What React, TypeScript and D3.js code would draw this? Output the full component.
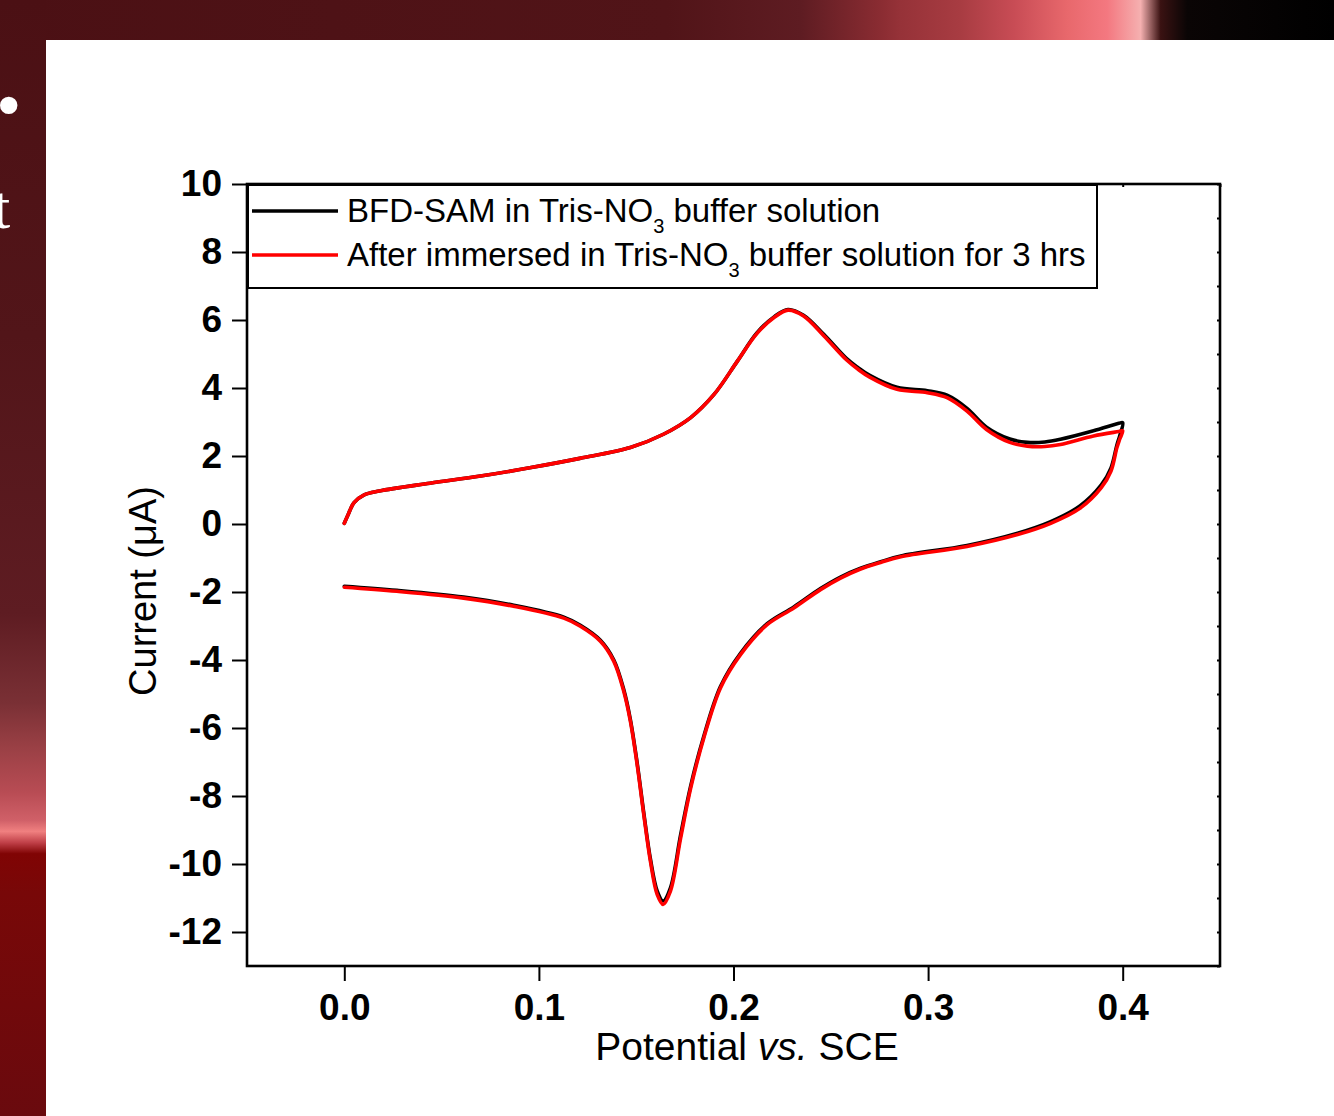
import React, { useEffect, useRef } from 'react';
import * as d3 from 'd3';

// forward scan (0 -> 0.4 V)
const fwdPotential = [0, 0.002, 0.005, 0.01, 0.018, 0.044, 0.07, 0.096, 0.121, 0.147, 0.164, 0.178, 0.19, 0.202, 0.212, 0.221, 0.228, 0.236, 0.2465, 0.258, 0.264, 0.27, 0.284, 0.2996, 0.31, 0.32, 0.33, 0.342, 0.351, 0.36, 0.368, 0.385, 0.398, 0.4];
const fwdBlack = [0.02, 0.28, 0.63, 0.85, 0.97, 1.2, 1.41, 1.66, 1.93, 2.25, 2.64, 3.13, 3.81, 4.79, 5.62, 6.1, 6.31, 6.14, 5.57, 4.87, 4.6, 4.37, 4.02, 3.92, 3.78, 3.4, 2.85, 2.5, 2.4, 2.41, 2.49, 2.74, 2.96, 2.98];
const fwdRed = [0.02, 0.28, 0.63, 0.85, 0.97, 1.2, 1.41, 1.66, 1.93, 2.25, 2.64, 3.13, 3.81, 4.79, 5.6, 6.08, 6.29, 6.12, 5.53, 4.83, 4.55, 4.32, 3.96, 3.86, 3.71, 3.32, 2.78, 2.4, 2.29, 2.28, 2.34, 2.59, 2.72, 2.74];

// reverse scan (0.4 -> 0 V)
const revPotential = [0.4, 0.3985, 0.397, 0.394, 0.389, 0.378, 0.363, 0.346, 0.32, 0.286, 0.2756, 0.265, 0.255, 0.2447, 0.231, 0.2173, 0.2036, 0.1933, 0.1847, 0.178, 0.1728, 0.1676, 0.1638, 0.1608, 0.1573, 0.1539, 0.1505, 0.147, 0.1436, 0.1385, 0.1316, 0.1213, 0.1128, 0.087, 0.0613, 0.027, 0];
const revBlack = [2.98, 2.6, 2.32, 1.65, 1.15, 0.53, 0.07, -0.27, -0.63, -0.94, -1.11, -1.31, -1.56, -1.9, -2.44, -2.93, -3.8, -4.78, -6.25, -7.7, -9.15, -10.7, -11.09, -10.8, -9.85, -8.5, -7.03, -5.75, -4.87, -4.0, -3.42, -2.98, -2.74, -2.39, -2.15, -1.95, -1.83];
const revRed = [2.74, 2.5, 2.24, 1.56, 1.07, 0.46, 0.02, -0.31, -0.66, -0.96, -1.13, -1.33, -1.59, -1.93, -2.47, -2.96, -3.84, -4.82, -6.3, -7.77, -9.25, -10.8, -11.19, -10.9, -9.92, -8.55, -7.08, -5.8, -4.92, -4.04, -3.45, -3.01, -2.77, -2.42, -2.18, -1.98, -1.86];

const xMajor = [0, 0.1, 0.2, 0.3, 0.4];
const xMinor = [-0.05, 0.05, 0.15, 0.25, 0.35, 0.45];
const yMajor = [-12, -10, -8, -6, -4, -2, 0, 2, 4, 6, 8, 10];
const yMinor = [-13, -11, -9, -7, -5, -3, -1, 1, 3, 5, 7, 9];

const legendBefore = ['BFD-SAM in Tris-NO', 'After immersed in Tris-NO'];
const legendSub = ['3', '3'];
const legendAfter = [' buffer solution', ' buffer solution for 3 hrs'];
const seriesColors = ['#000000', '#ff0000'];

const FONT = "'Liberation Sans', Arial, sans-serif";

const App = () => {
  const svgRef = useRef(null);

  useEffect(() => {
    const W = 1334, H = 1116;
    const left = 247, right = 1220, top = 184, bottom = 966;

    const svg = d3.select(svgRef.current);
    svg.selectAll('*').remove();
    svg.attr('width', W).attr('height', H);

    // slide background
    const defs = svg.append('defs');
    const topGrad = defs.append('linearGradient').attr('id', 'topBand')
      .attr('x1', 0).attr('x2', 1).attr('y1', 0).attr('y2', 0);
    [[0, '#4b1014'], [0.5, '#511418'], [0.6, '#5e1c22'], [0.66, '#8a2c32'], [0.675, '#963238'],
      [0.72, '#a83c42'], [0.76, '#c84c55'], [0.8, '#e8686c'], [0.83, '#f47880'], [0.855, '#f5b0b0'],
      [0.87, '#3a1212'], [0.89, '#0a0505'], [1, '#000000']].forEach(([o, c]) =>
      topGrad.append('stop').attr('offset', o).attr('stop-color', c));
    const leftGrad = defs.append('linearGradient').attr('id', 'leftBand')
      .attr('x1', 0).attr('x2', 0).attr('y1', 0).attr('y2', 1);
    [[0, '#4b1014'], [0.3, '#521519'], [0.55, '#5e1c22'], [0.63, '#7a3035'], [0.67, '#9a4045'],
      [0.71, '#b84c54'], [0.735, '#d06068'], [0.745, '#f08080'], [0.755, '#c04048'], [0.765, '#800404'],
      [0.8, '#780808'], [1, '#6a0a0e']].forEach(([o, c]) =>
      leftGrad.append('stop').attr('offset', o).attr('stop-color', c));

    svg.append('rect').attr('width', W).attr('height', H).attr('fill', '#ffffff');
    svg.append('rect').attr('width', W).attr('height', 40).attr('fill', 'url(#topBand)');
    svg.append('rect').attr('y', 0).attr('width', 46).attr('height', H).attr('fill', 'url(#leftBand)');
    // bits of slide text cut off by the chart picture
    svg.append('text').attr('x', -9).attr('y', 128).attr('fill', '#ffffff')
      .attr('font-family', 'DejaVu Serif, serif').attr('font-size', 60).text('•');
    svg.append('text').attr('x', -7).attr('y', 228).attr('fill', '#ffffff')
      .attr('font-family', "'Liberation Serif', serif").attr('font-size', 62).text('t');

    const x = d3.scaleLinear().domain([-0.05, 0.45]).range([left, right]);
    const y = d3.scaleLinear().domain([-13, 10]).range([bottom, top]);

    // bottom axis
    const bx = svg.append('g').attr('transform', `translate(0,${bottom})`);
    bx.call(d3.axisBottom(x).tickValues(xMinor).tickSize(7).tickSizeOuter(0).tickFormat(() => ''));
    bx.call(d3.axisBottom(x).tickValues(xMajor).tickSize(15).tickSizeOuter(0).tickPadding(13)
      .tickFormat(d => (+d).toFixed(1)));
    // left axis
    const ly = svg.append('g').attr('transform', `translate(${left},0)`);
    ly.call(d3.axisLeft(y).tickValues(yMinor).tickSize(8).tickSizeOuter(0).tickFormat(() => ''));
    ly.call(d3.axisLeft(y).tickValues(yMajor).tickSize(15).tickSizeOuter(0).tickPadding(10)
      .tickFormat(d => String(d)));
    // mirrored inward ticks on top/right
    svg.append('g').attr('transform', `translate(0,${top})`)
      .call(d3.axisBottom(x).tickValues([...xMinor, ...xMajor]).tickSize(3).tickSizeOuter(0).tickFormat(() => ''));
    svg.append('g').attr('transform', `translate(${right},0)`)
      .call(d3.axisLeft(y).tickValues([...yMinor, ...yMajor]).tickSize(3).tickSizeOuter(0).tickFormat(() => ''));

    svg.selectAll('.domain').attr('stroke', 'none');
    svg.selectAll('.tick line').attr('stroke', '#000').attr('stroke-width', 2);
    svg.selectAll('.tick text').attr('fill', '#000').attr('font-family', FONT)
      .attr('font-size', 37).attr('font-weight', 'bold');

    // frame
    svg.append('rect').attr('x', left).attr('y', top)
      .attr('width', right - left).attr('height', bottom - top)
      .attr('fill', 'none').attr('stroke', '#000').attr('stroke-width', 2.6);

    // curves
    const line = d3.line<[number, number]>()
      .x(d => x(d[0])).y(d => y(d[1]))
      .curve(d3.curveCatmullRom.alpha(0.5));
    const series = [
      [...fwdPotential.map((v, i) => [v, fwdBlack[i]]), ...revPotential.slice(1).map((v, i) => [v, revBlack[i + 1]])],
      [...fwdPotential.map((v, i) => [v, fwdRed[i]]), ...revPotential.slice(1).map((v, i) => [v, revRed[i + 1]])],
    ];
    series.forEach((pts, i) => {
      svg.append('path').attr('d', line(pts as [number, number][]))
        .attr('fill', 'none').attr('stroke', seriesColors[i]).attr('stroke-width', 3.6)
        .attr('stroke-linejoin', 'round').attr('stroke-linecap', 'round');
    });

    // legend
    svg.append('rect').attr('x', 248).attr('y', 185).attr('width', 849).attr('height', 103)
      .attr('fill', '#fff').attr('stroke', '#000').attr('stroke-width', 2);
    legendBefore.forEach((label, i) => {
      const cy = 211 + i * 44;
      svg.append('line').attr('x1', 252).attr('x2', 338).attr('y1', cy).attr('y2', cy)
        .attr('stroke', seriesColors[i]).attr('stroke-width', 3.4);
      const t = svg.append('text').attr('x', 347).attr('y', cy + 11)
        .attr('font-family', FONT).attr('font-size', 33).attr('fill', '#000');
      t.append('tspan').text(label);
      t.append('tspan').attr('font-size', 20).attr('dy', 11).text(legendSub[i]);
      t.append('tspan').attr('dy', -11).text(legendAfter[i]);
    });

    // axis titles
    const xt = svg.append('text').attr('x', 747).attr('y', 1060).attr('text-anchor', 'middle')
      .attr('font-family', FONT).attr('font-size', 39).attr('fill', '#000');
    xt.append('tspan').text('Potential ');
    xt.append('tspan').attr('font-style', 'italic').text('vs.');
    xt.append('tspan').text(' SCE');

    svg.append('text').attr('transform', 'translate(156,591) rotate(-90)')
      .attr('text-anchor', 'middle').attr('font-family', FONT).attr('font-size', 38)
      .attr('fill', '#000').text('Current (μA)');
  }, []);

  return <svg ref={svgRef} style={{ position: 'absolute', left: 0, top: 0, display: 'block' }}></svg>;
};

export default App;
